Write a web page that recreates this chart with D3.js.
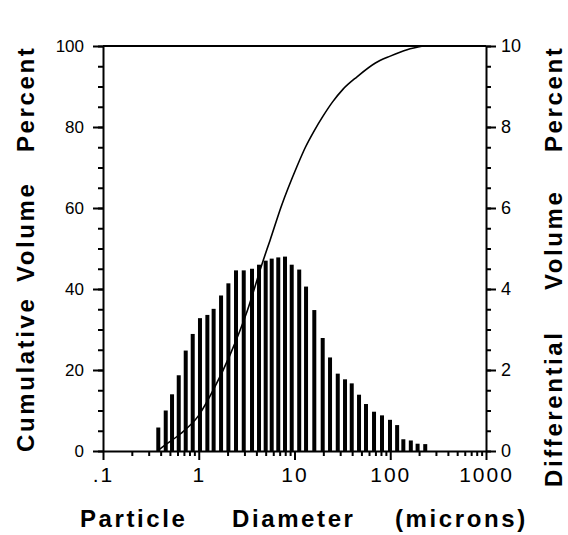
<!DOCTYPE html>
<html>
<head>
<meta charset="utf-8">
<script src="https://cdn.jsdelivr.net/npm/d3@7"></script>
<style>
  body { margin: 0; background: #fff; }
  svg { display: block; font-family: "Liberation Sans", Arial, Helvetica, sans-serif; }
  .axis path, .axis line { stroke: #000; stroke-width: 2; }
  .axis text { fill: #000; }
  .title { font-weight: bold; font-size: 24px; letter-spacing: 2.6px; }
</style>
</head>
<body>
<div id="chart"></div>
<script>
// bar channels (microns) and differential volume %
const diameters = [0.378, 0.452, 0.526, 0.618, 0.731, 0.865, 1.03, 1.23, 1.43, 1.71,
  2.04, 2.45, 2.95, 3.60, 4.26, 5.00, 5.78, 6.77, 7.96, 9.35,
  11.2, 13.2, 16.1, 19.7, 23.5, 28.3, 33.7, 39.6, 47.2, 55.8,
  67.7, 82.0, 99.4, 118, 137, 164, 193, 232];
const diffPct = [0.58, 1.0, 1.40, 1.87, 2.48, 2.89, 3.28, 3.36, 3.51, 3.84,
  4.14, 4.46, 4.46, 4.50, 4.60, 4.70, 4.75, 4.78, 4.80, 4.60,
  4.48, 4.06, 3.48, 2.79, 2.31, 1.91, 1.77, 1.67, 1.39, 1.16,
  0.97, 0.88, 0.77, 0.64, 0.29, 0.26, 0.18, 0.17];

// cumulative curve, read at a few diameters
const cumDiam = [0.37, 0.43, 0.64, 1.0, 1.45, 2.1, 3.2, 4.7, 5.55, 7.3, 10.5, 13, 16, 20, 25, 32, 45, 70, 100, 150, 220];
const cumPct = [0, 1.2, 4.2, 8.8, 15.5, 23.5, 34.5, 47, 52, 60.5, 70, 75, 79, 82.8, 86.2, 89.3, 92.4, 95.8, 97.5, 99.1, 100];

const xTicks = [0.1, 1, 10, 100, 1000];
const xTickLabels = [".1", "1", "10", "100", "1000"];
const leftTicks = [0, 20, 40, 60, 80, 100];
const rightTicks = [0, 2, 4, 6, 8, 10];

const margin = { top: 46, right: 82, bottom: 84, left: 103 };
const width = 568 - margin.left - margin.right,
  height = 535 - margin.top - margin.bottom;

const svg = d3.select("#chart")
  .append("svg")
  .attr("width", width + margin.left + margin.right)
  .attr("height", height + margin.top + margin.bottom)
  .append("g")
  .attr("transform", "translate(" + margin.left + "," + margin.top + ")");

const x = d3.scaleLog().domain([0.1, 1000]).range([0, width]);
const yCum = d3.scaleLinear().domain([0, 100]).range([height, 0]);
const yDiff = d3.scaleLinear().domain([0, 10]).range([height, 0]);

// minor ticks: 2..9 in every decade
const xMinor = [];
for (let p = -1; p < 3; p++) {
  for (let k = 2; k < 10; k++) xMinor.push(k * Math.pow(10, p));
}

// bars
svg.selectAll(".bar")
  .data(diameters)
  .enter()
  .append("rect")
  .attr("class", "bar")
  .attr("x", d => x(d) - 2)
  .attr("width", 4)
  .attr("y", (d, i) => yDiff(diffPct[i]))
  .attr("height", (d, i) => height - yDiff(diffPct[i]))
  .attr("fill", "#000");

// cumulative line
const line = d3.line()
  .x((d, i) => x(cumDiam[i]))
  .y(d => yCum(d))
  .curve(d3.curveMonotoneX);

svg.append("path")
  .datum(cumPct)
  .attr("d", line)
  .attr("fill", "none")
  .attr("stroke", "#000")
  .attr("stroke-width", 1.6);

// top frame
svg.append("line")
  .attr("x1", 0).attr("x2", width)
  .attr("y1", 0).attr("y2", 0)
  .attr("stroke", "#000").attr("stroke-width", 2);

// left axis
svg.append("g").attr("class", "axis")
  .call(d3.axisLeft(yCum).tickValues(d3.range(0, 101, 5)).tickSize(5).tickFormat(""))
  .call(g => g.select(".domain").remove());
svg.append("g").attr("class", "axis")
  .call(d3.axisLeft(yCum).tickValues(leftTicks).tickSize(10).tickSizeOuter(0).tickPadding(9))
  .call(g => g.selectAll("text").style("font-size", "17px"));

// right axis
svg.append("g").attr("class", "axis")
  .attr("transform", "translate(" + width + ",0)")
  .call(d3.axisRight(yDiff).tickValues(d3.range(0, 10.01, 0.5)).tickSize(5).tickFormat(""))
  .call(g => g.select(".domain").remove());
svg.append("g").attr("class", "axis")
  .attr("transform", "translate(" + width + ",0)")
  .call(d3.axisRight(yDiff).tickValues(rightTicks).tickSize(10).tickSizeOuter(0).tickPadding(5))
  .call(g => g.selectAll("text").style("font-size", "18px"));

// bottom axis
svg.append("g").attr("class", "axis")
  .attr("transform", "translate(0," + height + ")")
  .call(d3.axisBottom(x).tickValues(xMinor).tickSize(5).tickFormat(""))
  .call(g => g.select(".domain").remove());
svg.append("g").attr("class", "axis")
  .attr("transform", "translate(0," + height + ")")
  .call(d3.axisBottom(x).tickValues(xTicks).tickSize(9).tickSizeOuter(0).tickPadding(7)
    .tickFormat((d, i) => xTickLabels[i]))
  .call(g => g.selectAll("text").style("font-size", "21px").style("letter-spacing", "2px"));

// axis titles, word by word like the original
const leftWords = [["Cumulative", height + 1], ["Volume", 236], ["Percent", 106]];
leftWords.forEach(w => {
  svg.append("text").attr("class", "title")
    .attr("transform", "translate(" + (34 - margin.left) + "," + w[1] + ") rotate(-90)")
    .text(w[0]);
});

const rightWords = [["Differential", 441], ["Volume", 244], ["Percent", 106]];
rightWords.forEach(w => {
  svg.append("text").attr("class", "title")
    .attr("transform", "translate(" + (562 - margin.left) + "," + w[1] + ") rotate(-90)")
    .text(w[0]);
});

const bottomWords = [["Particle", 80], ["Diameter", 232], ["(microns)", 395]];
bottomWords.forEach(w => {
  svg.append("text").attr("class", "title")
    .attr("x", w[1] - margin.left)
    .attr("y", 527 - margin.top)
    .text(w[0]);
});
</script>
</body>
</html>
